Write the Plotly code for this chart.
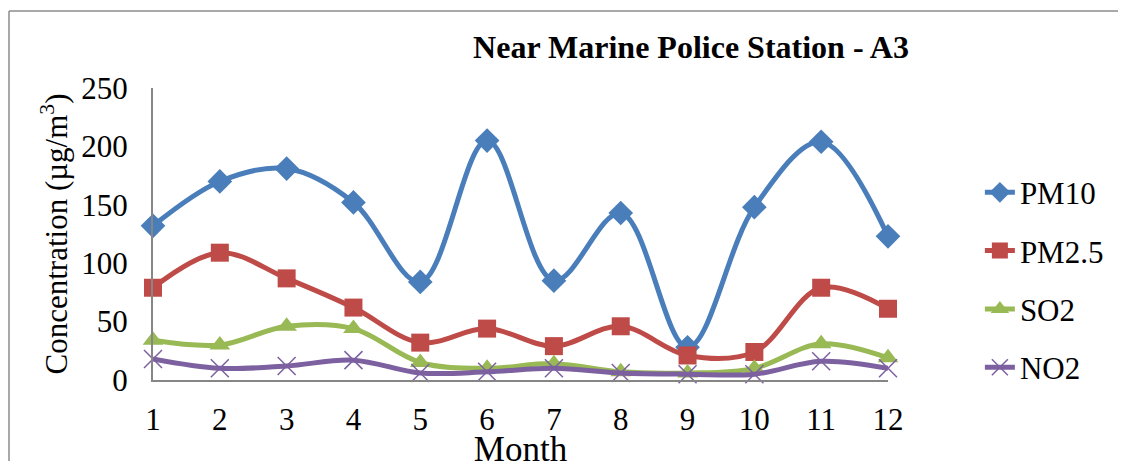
import plotly.graph_objects as go

months = list(range(1, 13))
pm10 = [132, 170, 181, 152, 84, 205, 85, 143, 28, 148, 204, 123]
pm25 = [79, 109, 87, 62, 32, 44, 29, 46, 21, 24, 79, 61]
so2 = [34, 30, 46, 44, 15, 10, 14, 7, 6, 10, 31, 19]
no2 = [18, 10, 12, 17, 6, 7, 10, 6, 5, 5, 16, 10]

SERIF = "Liberation Serif, Times New Roman, serif"

series = [
    ("PM10", pm10, "#4A7EBB", dict(symbol="diamond", size=19)),
    ("PM2.5", pm25, "#BE4B48", dict(symbol="square", size=18)),
    ("SO2", so2, "#98B954", dict(symbol="triangle-up", size=18)),
    ("NO2", no2, "#7D60A0", dict(symbol="x-thin-open", size=18,
                                 line=dict(width=1.5, color="#7D60A0"))),
]

fig = go.Figure()
for name, vals, color, marker in series:
    fig.add_trace(go.Scatter(
        x=months, y=vals, name=name, mode="lines+markers",
        line=dict(color=color, width=5, shape="spline", smoothing=1.0),
        marker=dict(color=color, **marker),
        cliponaxis=False, legendgroup=name,
    ))

# the page body adds an 8px offset, margins compensate for it
fig.update_layout(
    width=1126, height=461,
    margin=dict(l=145, r=246, t=80, b=89),
    plot_bgcolor="white", paper_bgcolor="white",
    font=dict(family=SERIF, size=31, color="black"),
    title=dict(text="<b>Near Marine Police Station - A3</b>",
               x=683 / 1126, xanchor="center", y=1 - 39 / 461, yanchor="middle",
               font=dict(size=32)),
    legend=dict(x=1.125, xanchor="left", y=0.342, yanchor="middle",
                font=dict(size=31), tracegroupgap=15, traceorder="grouped",
                bgcolor="rgba(0,0,0,0)"),
    showlegend=True,
)
fig.update_xaxes(range=[1, 12], tickvals=months, showline=True, linecolor="#868686",
                 linewidth=2, showgrid=False, zeroline=False, ticks="outside",
                 ticklen=11, tickcolor="rgba(0,0,0,0)", tickfont=dict(size=31),
                 automargin=False,
                 title=dict(text="Month", font=dict(size=35), standoff=0))
fig.update_yaxes(range=[0, 250], dtick=50, showline=True, linecolor="#868686",
                 linewidth=2, showgrid=False, zeroline=False, ticks="outside",
                 ticklen=17, tickcolor="rgba(0,0,0,0)", tickfont=dict(size=31),
                 automargin=False,
                 title=dict(text="Concentration (µg/m<sup>3</sup>)",
                            font=dict(size=31), standoff=4))

# outer chart border (left and top edges visible)
bx = (9 - 153) / 735
by = (380 - 11) / 292
fig.add_shape(type="line", xref="paper", yref="paper",
              x0=bx, x1=bx, y0=by, y1=-0.4,
              line=dict(color="#8c8c8c", width=1.5))
fig.add_shape(type="line", xref="paper", yref="paper",
              x0=bx, x1=(1126 - 153) / 735, y0=by, y1=by,
              line=dict(color="#8c8c8c", width=1.5))

fig.write_html("out.html")
